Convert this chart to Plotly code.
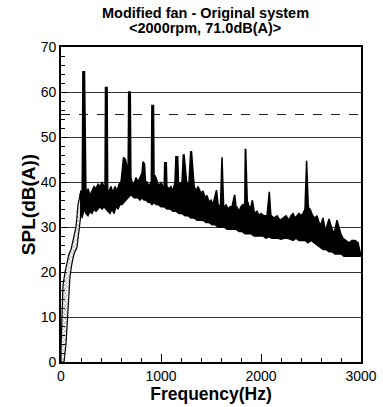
import plotly.graph_objects as go

# ---- data ----
upper_f = [0, 10, 20, 40, 60, 80, 100, 120, 150, 170, 190, 200,
           212, 219, 235, 243, 250, 270, 290, 310, 330, 350, 370, 390, 410, 430,
           440, 445, 461, 467, 480, 500, 520, 540, 560, 580, 600,
           610, 625, 645, 660, 671, 677, 693, 699, 710, 730, 750, 770, 790,
           810, 820, 835, 845, 860, 880, 900, 903, 909, 925, 931, 940, 960, 980, 1000, 1020,
           1032, 1037, 1053, 1059, 1080, 1100, 1120,
           1140, 1149, 1167, 1175, 1190, 1210, 1223, 1231, 1249, 1258, 1280, 1297, 1305, 1323, 1332,
           1350, 1370, 1400, 1420, 1440, 1460, 1480, 1500, 1520,
           1548, 1555, 1571, 1578, 1595, 1604, 1610, 1626, 1632,
           1650, 1670, 1690, 1710, 1734, 1738, 1753, 1759, 1780, 1800, 1820, 1838,
           1843, 1847, 1863, 1869, 1880, 1900, 1911, 1915, 1931, 1937,
           1960, 1980, 2000, 2030, 2060, 2078, 2083, 2099, 2104,
           2130, 2160, 2190, 2220, 2250, 2280, 2300, 2320, 2340, 2360, 2380, 2400, 2420, 2440,
           2450, 2456, 2472, 2478, 2490, 2517, 2540, 2560, 2580, 2600, 2620, 2637, 2650, 2680,
           2711, 2730, 2760, 2798, 2820, 2850, 2880, 2910, 2940, 2970, 3000]
upper_db = [3, 10, 17, 20, 22, 24, 25, 27, 30, 35, 37, 38,
            38, 64.5, 64.5, 39, 37, 38.5, 37, 38, 39, 38.5, 39.5, 39, 40, 39,
            39, 61, 61, 38, 38, 39, 37.5, 39, 38, 39.5, 40,
            42, 45.5, 45, 43, 42, 60, 60, 41, 40, 39.5, 41, 40, 41,
            42, 44.5, 44, 40, 40, 39, 40, 39, 57, 57, 40, 41.5, 40, 39, 40, 39,
            39, 44.3, 44.3, 39, 38.5, 39, 38,
            40, 45.6, 45.6, 40, 39.5, 40, 46, 46, 40, 39.5, 40, 46.7, 46.7, 40,
            39, 38, 39, 37.5, 38, 36.5, 37, 35.5, 36,
            35, 38.2, 38.2, 35, 34.5, 35, 45.5, 45.5, 35,
            34, 35, 34, 34.5, 34.5, 37, 37, 34, 34.5, 33.5, 34.5, 35,
            35, 47.2, 47.2, 35.5, 35.5, 34.5, 34.5, 35.8, 35.8, 33.5,
            33, 33.5, 32.5, 33, 32.5, 32.5, 37.8, 37.8, 32.5,
            32.5, 32, 32.5, 31.5, 32, 32.5, 31.5, 32.5, 33, 32, 32.5, 33, 32.5, 33,
            34, 44.7, 44.7, 35, 34, 34, 32.5, 32, 32.5, 31, 30.5, 32, 30, 29.5,
            31.8, 29.5, 28.5, 31.5, 28.5, 27.5, 27, 26.5, 27, 27, 26.5]

lower_f = [0, 30, 50, 70, 90, 110, 130, 160, 180, 195, 210, 230, 250, 270, 290, 310, 330,
           350, 370, 390, 410, 430, 450, 470, 490, 510, 530, 550, 570, 590, 610, 630, 650,
           670, 690, 710, 730, 750, 770, 790, 810, 830, 850, 870, 890, 910, 930, 950, 970,
           1000, 1030, 1060, 1090, 1120, 1150, 1180, 1210, 1240, 1270, 1300, 1330, 1360,
           1390, 1420, 1450, 1480, 1510, 1540, 1570, 1600, 1630, 1660, 1690, 1720, 1750,
           1780, 1810, 1840, 1870, 1900, 1930, 1960, 1990, 2020, 2050, 2080, 2110, 2140,
           2170, 2200, 2230, 2260, 2290, 2320, 2350, 2380, 2410, 2440, 2470, 2500, 2530,
           2560, 2590, 2620, 2650, 2680, 2710, 2740, 2770, 2800, 2830, 2860, 2890, 2920,
           2950, 2980, 3000]
lower_db = [0, 0, 4, 10, 19, 22, 24, 25.5, 29, 32, 34, 33, 32.5, 33.5, 33, 34, 33.5,
            34, 34.5, 34, 34.5, 34, 33.5, 33, 34, 33, 34.5, 34, 35, 35, 35.5, 36, 36.5,
            37, 37, 36.5, 36.5, 36.5, 36, 36.5, 36, 36, 35.5, 35.5, 35, 35.5, 35, 35, 34.5,
            34.5, 34, 34, 33.5, 33.5, 33, 33, 32.5, 32.5, 32, 32, 31.5, 31.5,
            31.5, 31, 31, 30.5, 30.5, 30, 30, 30, 29.5, 29.5, 29.5, 29.5, 29,
            29, 28.5, 28.5, 28.5, 28, 28, 28, 28, 27.5, 27.8, 27.5, 27.5, 27.5,
            27.3, 27.5, 27.5, 27.3, 27, 27.5, 27, 27, 27, 26.5, 27, 26.5, 26,
            25.5, 25, 25, 24.5, 24.5, 24, 24, 24, 23.5, 23.5, 23.5, 23.5, 23.5,
            23.5, 23.5, 24]

low_freq_limit = 200          # hatched (low-frequency) part of the trace
reference_level = 55          # dashed reference line, dB(A)

x_ticks = [0, 1000, 2000, 3000]
y_ticks = [0, 10, 20, 30, 40, 50, 60, 70]

title_lines = ["Modified fan - Original system", "&lt;2000rpm, 71.0dB(A)&gt;"]
x_title = "Frequency(Hz)"
y_title = "SPL(dB(A))"


def band(fmin, fmax):
    uf = [f for f in upper_f if fmin <= f <= fmax]
    ud = [d for f, d in zip(upper_f, upper_db) if fmin <= f <= fmax]
    lf = [f for f in lower_f if fmin <= f <= fmax]
    ld = [d for f, d in zip(lower_f, lower_db) if fmin <= f <= fmax]
    return uf + lf[::-1] + [uf[0]], ud + ld[::-1] + [ud[0]]


fig = go.Figure()

# reference line (drawn under the trace)
fig.add_trace(go.Scatter(x=[x_ticks[0], x_ticks[-1]], y=[reference_level] * 2,
                         mode="lines", line=dict(color="#222", width=1.2, dash="dash"),
                         hoverinfo="skip", showlegend=False))

hx, hy = band(0, low_freq_limit)
fig.add_trace(go.Scatter(x=hx, y=hy, mode="lines", fill="toself",
                         fillcolor="white",
                         fillpattern=dict(shape="x", fgcolor="#333", bgcolor="white",
                                          size=3, solidity=0.4),
                         line=dict(color="black", width=1.2), showlegend=False))

mx, my = band(190, 3000)
fig.add_trace(go.Scatter(x=mx, y=my, mode="lines", fill="toself",
                         fillcolor="black", line=dict(color="black", width=1.5),
                         showlegend=False))

# two-line title as annotations (tight line spacing, as in the reference)
for text, ypos in zip(title_lines, [1.108, 1.060]):
    fig.add_annotation(text="<b>" + text + "</b>", xref="paper", yref="paper",
                       x=0.48, y=ypos, xanchor="center", yanchor="middle",
                       showarrow=False, font=dict(size=14.5, color="black"))

fig.update_layout(
    width=383, height=407,
    margin=dict(l=61, r=22, t=47, b=45),
    paper_bgcolor="white", plot_bgcolor="white",
    font=dict(family="Liberation Sans, Arial, sans-serif", color="black"),
    showlegend=False,
)

fig.update_xaxes(
    range=[0, 3000], tickvals=x_ticks, ticktext=[str(v) for v in x_ticks],
    ticks="inside", ticklen=8, tickwidth=1.2, tickcolor="black",
    minor=dict(dtick=200, ticks="inside", ticklen=4, tickcolor="black", tickwidth=1),
    showgrid=False, zeroline=False, automargin=False,
    showline=True, linecolor="black", linewidth=1.8, mirror=True,
    tickfont=dict(size=14, color="black"),
    title=dict(text="<b>" + x_title + "</b>", font=dict(size=17.5, color="black"), standoff=2),
)
fig.update_yaxes(
    range=[0, 70], tickvals=y_ticks, ticktext=[str(v) for v in y_ticks],
    ticks="inside", ticklen=6, tickwidth=1.2, tickcolor="black",
    minor=dict(dtick=2, ticks="inside", ticklen=4, tickcolor="black", tickwidth=1),
    showgrid=True, gridcolor="#333", gridwidth=1, zeroline=False, automargin=False,
    showline=True, linecolor="black", linewidth=1.8, mirror=True,
    tickfont=dict(size=14, color="black"),
    title=dict(text="<b>" + y_title + "</b>", font=dict(size=19, color="black"), standoff=0),
)

fig.write_html("out.html", config={"displayModeBar": False},
               post_script="document.body.style.margin='0';document.body.style.overflow='hidden';")
